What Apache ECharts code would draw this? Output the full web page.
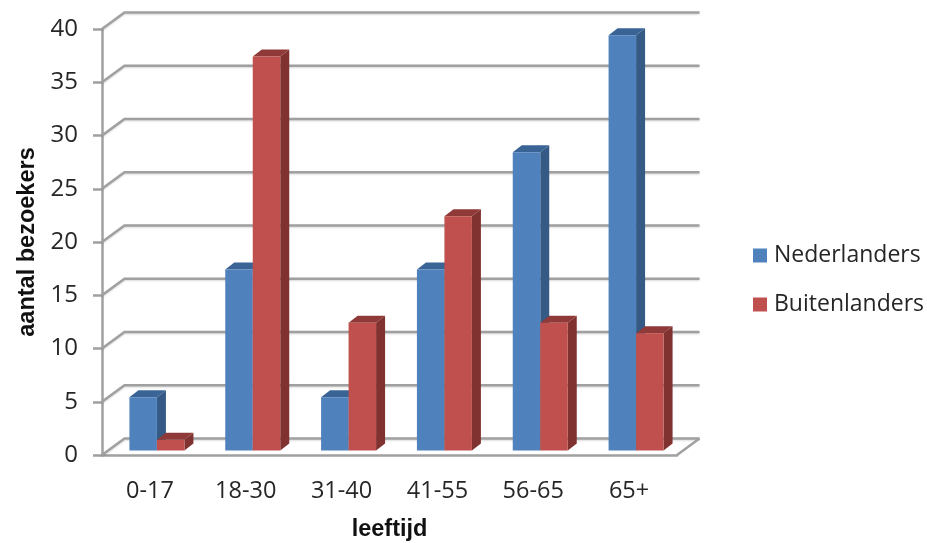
<!DOCTYPE html>
<html><head><meta charset="utf-8">
<style>html,body{margin:0;padding:0;background:#fff}#c{width:927px;height:543px}</style>
<script src="https://cdn.jsdelivr.net/npm/echarts@6/dist/echarts.min.js"></script>
</head><body><div id="c"></div>
<script>
var categories = ['0-17','18-30','31-40','41-55','56-65','65+'];
var nederlanders = [5,17,5,17,28,39];
var buitenlanders = [1,37,12,22,12,11];
var yTicks = [0,5,10,15,20,25,30,35,40];

var DEPTH_X = 22.5, DEPTH_Y = -16.5;
var BAR_W = 27.5, BAR_DX = 9, BAR_DY = -7, SHIFT_X = 7, SHIFT_Y = -4.5;
var GRID_COLOR = '#a0a0a0';
var FONT = '"Open Sans", sans-serif';

function wall(params, api) {
  var cs = params.coordSys, v = api.value(0);
  var y = api.coord([0, v])[1], x0 = cs.x, x1 = cs.x + cs.width;
  var kids = [{
    type: 'polyline',
    shape: { points: [[x0, y], [x0 + DEPTH_X, y + DEPTH_Y], [x1 + DEPTH_X, y + DEPTH_Y]] },
    style: { stroke: GRID_COLOR, lineWidth: 2.5, fill: null, shadowColor: 'rgba(0,0,0,0.15)', shadowBlur: 2, shadowOffsetY: 1 }
  }];
  if (v === 0) {
    kids.push({
      type: 'line',
      shape: { x1: x1, y1: y, x2: x1 + DEPTH_X, y2: y + DEPTH_Y },
      style: { stroke: GRID_COLOR, lineWidth: 2.5 }
    });
  }
  return { type: 'group', children: kids };
}

function bar3d(side, front, top, flank) {
  return function (params, api) {
    var cat = api.value(0), val = api.value(1);
    var p = api.coord([cat, val]), b = api.coord([cat, 0]);
    var l = side < 0 ? p[0] + SHIFT_X - BAR_W : p[0] + SHIFT_X;
    var r = l + BAR_W, t = p[1] + SHIFT_Y, y0 = b[1] + SHIFT_Y;
    return { type: 'group', children: [
      { type: 'polygon', shape: { points: [[r, t], [r + BAR_DX, t + BAR_DY], [r + BAR_DX, y0 + BAR_DY], [r, y0]] }, style: { fill: flank } },
      { type: 'polygon', shape: { points: [[l, t], [l + BAR_DX, t + BAR_DY], [r + BAR_DX, t + BAR_DY], [r, t]] }, style: { fill: top } },
      { type: 'rect', shape: { x: l, y: t, width: BAR_W, height: y0 - t }, style: { fill: front } }
    ] };
  };
}

var chart = echarts.init(document.getElementById('c'), null, { renderer: 'canvas' });
chart.setOption({
  animation: false,
  backgroundColor: '#fff',
  grid: { left: 102, top: 29, width: 575, height: 426, outerBoundsMode: 'none', containLabel: false },
  legend: {
    orient: 'vertical', left: 748, top: 239, itemWidth: 14, itemHeight: 14, itemGap: 26,
    icon: 'rect', selectedMode: false,
    data: ['Nederlanders', 'Buitenlanders'],
    textStyle: { fontFamily: FONT, fontSize: 23, color: '#262626', padding: [0, 0, 0, 2] }
  },
  xAxis: {
    type: 'category', data: categories,
    name: 'leeftijd', nameLocation: 'middle', nameGap: 63,
    nameTextStyle: { fontFamily: '"Liberation Sans", sans-serif', fontWeight: 'bold', fontSize: 23.5, color: '#111' },
    axisLine: { lineStyle: { color: GRID_COLOR, width: 2.5 } },
    axisTick: { show: false },
    axisLabel: { fontFamily: FONT, fontSize: 23.5, color: '#262626', margin: 24 },
    splitLine: { show: false }
  },
  yAxis: {
    type: 'value', min: 0, max: 40, interval: 5,
    name: 'aantal bezoekers', nameLocation: 'middle', nameGap: 61,
    nameTextStyle: { fontFamily: '"Liberation Sans", sans-serif', fontWeight: 'bold', fontSize: 23.5, color: '#111' },
    axisLine: { show: true, lineStyle: { color: GRID_COLOR, width: 2.5 } },
    axisTick: { show: true, length: 9, lineStyle: { color: GRID_COLOR, width: 2.5 } },
    axisLabel: { fontFamily: FONT, fontSize: 24, color: '#262626', margin: 24, padding: [8, 0, 0, 0] },
    splitLine: { show: false }
  },
  series: [
    { type: 'custom', name: 'wall', silent: true, z: 1, renderItem: wall, data: yTicks.map(function (v) { return [v]; }), encode: { y: 0 } },
    { type: 'custom', name: 'Nederlanders', z: 2, itemStyle: { color: '#4f81bd' }, renderItem: bar3d(-1, '#4f81bd', '#3a6496', '#345a85'), encode: { x: 0, y: 1 },
      data: nederlanders.map(function (v, i) { return [i, v]; }) },
    { type: 'custom', name: 'Buitenlanders', z: 3, itemStyle: { color: '#c0504d' }, renderItem: bar3d(1, '#c0504d', '#8f3a38', '#7f3230'), encode: { x: 0, y: 1 },
      data: buitenlanders.map(function (v, i) { return [i, v]; }) }
  ]
});
</script></body></html>
